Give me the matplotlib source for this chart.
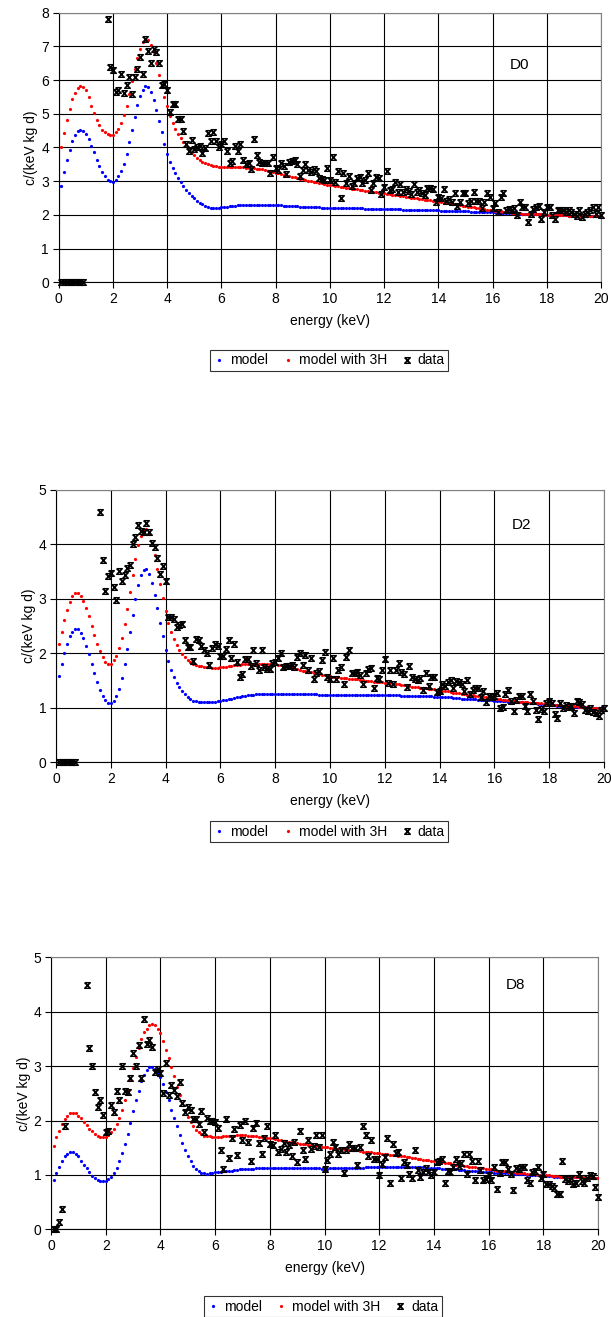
import numpy as np
import matplotlib
matplotlib.use('Agg')
import matplotlib.pyplot as plt
from matplotlib.path import Path

plt.rcParams['font.family'] = ['Liberation Sans', 'DejaVu Sans']

# ---- D0 ----
d0_model = [
    2.87, 3.27, 3.62, 3.93, 4.20, 4.38, 4.50, 4.52, 4.50, 4.40,
    4.24, 4.05, 3.85, 3.63, 3.44, 3.28, 3.14, 3.04, 2.99, 2.97,
    3.03, 3.14, 3.31, 3.52, 3.82, 4.17, 4.53, 4.91, 5.25, 5.52,
    5.71, 5.81, 5.78, 5.65, 5.42, 5.12, 4.77, 4.45, 4.10, 3.81,
    3.56, 3.38, 3.23, 3.09, 2.97, 2.86, 2.75, 2.66, 2.57, 2.49,
    2.42, 2.36, 2.31, 2.26, 2.23, 2.21, 2.21, 2.21, 2.21, 2.22,
    2.23, 2.24, 2.25, 2.26, 2.27, 2.28, 2.29, 2.29, 2.30, 2.30,
    2.30, 2.30, 2.30, 2.30, 2.30, 2.30, 2.30, 2.29, 2.29, 2.29,
    2.28, 2.28, 2.27, 2.27, 2.26, 2.26, 2.25, 2.25, 2.24, 2.24,
    2.23, 2.23, 2.23, 2.22, 2.22, 2.22, 2.21, 2.21, 2.21, 2.20,
    2.20, 2.20, 2.20, 2.20, 2.19, 2.19, 2.19, 2.19, 2.19, 2.19,
    2.19, 2.19, 2.18, 2.18, 2.18, 2.18, 2.18, 2.17, 2.17, 2.17,
    2.17, 2.17, 2.16, 2.16, 2.16, 2.16, 2.15, 2.15, 2.15, 2.15,
    2.14, 2.14, 2.14, 2.14, 2.14, 2.13, 2.13, 2.13, 2.13, 2.13,
    2.12, 2.12, 2.12, 2.11, 2.11, 2.11, 2.11, 2.10, 2.10, 2.10,
    2.10, 2.09, 2.09, 2.09, 2.09, 2.08, 2.08, 2.08, 2.07, 2.07,
    2.07, 2.06, 2.06, 2.06, 2.05, 2.05, 2.05, 2.04, 2.04, 2.03,
    2.03, 2.03, 2.02, 2.02, 2.02, 2.01, 2.01, 2.01, 2.00, 2.00,
    2.00, 2.00, 1.99, 1.99, 1.99, 1.99, 1.99, 1.98, 1.98, 1.98,
    1.98, 1.98, 1.98, 1.97, 1.97, 1.97, 1.97, 1.97, 1.97, 1.96]
d0_model_3h = [
    4.02, 4.43, 4.81, 5.15, 5.43, 5.62, 5.77, 5.82, 5.80, 5.70,
    5.51, 5.23, 5.01, 4.82, 4.66, 4.53, 4.45, 4.40, 4.38, 4.37,
    4.45, 4.56, 4.72, 4.97, 5.24, 5.58, 5.96, 6.33, 6.66, 6.93,
    7.13, 7.20, 7.19, 7.05, 6.82, 6.50, 6.16, 5.83, 5.49, 5.22,
    4.94, 4.72, 4.54, 4.41, 4.28, 4.16, 4.06, 3.96, 3.86, 3.77,
    3.70, 3.63, 3.58, 3.54, 3.50, 3.48, 3.46, 3.44, 3.43, 3.42,
    3.42, 3.42, 3.42, 3.42, 3.42, 3.42, 3.41, 3.41, 3.40, 3.40,
    3.39, 3.38, 3.37, 3.36, 3.35, 3.33, 3.31, 3.29, 3.27, 3.25,
    3.23, 3.21, 3.19, 3.17, 3.15, 3.13, 3.11, 3.09, 3.07, 3.05,
    3.03, 3.01, 2.99, 2.97, 2.96, 2.94, 2.93, 2.91, 2.90, 2.89,
    2.88, 2.86, 2.85, 2.84, 2.82, 2.81, 2.80, 2.78, 2.77, 2.76,
    2.75, 2.73, 2.72, 2.71, 2.70, 2.69, 2.67, 2.66, 2.65, 2.64,
    2.63, 2.61, 2.60, 2.59, 2.58, 2.56, 2.55, 2.54, 2.53, 2.51,
    2.50, 2.49, 2.48, 2.46, 2.45, 2.44, 2.43, 2.41, 2.40, 2.39,
    2.38, 2.36, 2.35, 2.34, 2.32, 2.31, 2.30, 2.28, 2.27, 2.26,
    2.24, 2.23, 2.22, 2.20, 2.19, 2.18, 2.16, 2.15, 2.14, 2.13,
    2.12, 2.11, 2.10, 2.09, 2.08, 2.07, 2.06, 2.05, 2.04, 2.04,
    2.03, 2.03, 2.02, 2.02, 2.02, 2.01, 2.01, 2.01, 2.00, 2.00,
    2.00, 2.00, 1.99, 1.99, 1.99, 1.99, 1.99, 1.98, 1.98, 1.98,
    1.98, 1.98, 1.98, 1.97, 1.97, 1.97, 1.97, 1.97, 1.97, 1.96]
# data: 0.1-0.9 keV, then 1.8-20.0 keV
d0_data_e = [0.1, 0.2, 0.3, 0.4, 0.5, 0.6, 0.7, 0.8, 0.9, 1.8]
d0_data = [
    0.0, 0.0, 0.0, 0.0, 0.0, 0.0, 0.0, 0.0, 0.0,
    7.82, 6.38, 6.30, 5.64, 5.69, 6.19, 5.62, 5.84, 6.09, 5.59,
    6.10, 6.33, 6.69, 6.17, 7.22, 6.85, 6.52, 6.92, 6.82, 6.51,
    5.86, 5.87, 5.71, 5.04, 5.29, 5.30, 4.84, 4.83, 4.50, 4.10,
    3.88, 4.23, 3.96, 4.00, 4.05, 3.83, 3.98, 4.43, 4.19, 4.46,
    4.20, 4.00, 4.10, 4.18, 3.90, 3.53, 3.61, 4.03, 3.90, 4.11,
    3.63, 3.50, 3.53, 3.36, 4.25, 3.79, 3.58, 3.55, 3.55, 3.55,
    3.24, 3.73, 3.39, 3.34, 3.55, 3.46, 3.21, 3.56, 3.59, 3.63,
    3.50, 3.16,
    3.33, 3.51, 3.33, 3.26, 3.35, 3.31, 3.09, 3.07, 3.04, 3.38,
    3.04, 3.73, 2.96, 3.30, 2.49, 3.23, 2.94, 3.16, 2.86, 2.94,
    3.09, 3.13, 2.94, 3.04, 3.25, 2.74, 2.94, 3.13, 3.09, 2.62,
    2.84, 3.30, 2.74, 2.76, 2.96, 2.69, 2.91, 2.69, 2.77, 2.71,
    2.62, 2.91, 2.69, 2.74, 2.64, 2.59, 2.79, 2.79, 2.77, 2.39,
    2.54, 2.49, 2.77, 2.41, 2.46, 2.39, 2.64, 2.26, 2.37, 2.64,
    2.64, 2.34, 2.41, 2.69, 2.41, 2.41, 2.19, 2.39, 2.66, 2.52,
    2.19, 2.34, 2.08, 2.54, 2.64, 2.14, 2.16, 2.14, 2.19, 1.99,
    2.37, 2.24, 2.22, 1.80, 2.02, 2.16, 2.24, 2.27, 1.88, 2.07,
    2.22, 2.22, 1.99, 1.88, 2.13, 2.13, 2.14, 2.07, 2.13, 2.07,
    2.03, 1.97, 2.13, 1.93, 2.03, 2.07, 2.13, 2.22, 2.02, 2.22,
    1.99]

# ---- D2 ----
d2_model = [
    1.59, 1.80, 2.00, 2.17, 2.31, 2.40, 2.45, 2.44, 2.38, 2.28,
    2.14, 1.98, 1.81, 1.63, 1.47, 1.33, 1.22, 1.14, 1.09, 1.08,
    1.13, 1.22, 1.35, 1.55, 1.81, 2.08, 2.39, 2.70, 3.00, 3.26,
    3.43, 3.53, 3.54, 3.46, 3.30, 3.08, 2.83, 2.56, 2.31, 2.07,
    1.86, 1.70, 1.57, 1.46, 1.38, 1.31, 1.25, 1.20, 1.16, 1.13,
    1.12, 1.11, 1.10, 1.10, 1.10, 1.10, 1.11, 1.11, 1.12, 1.13,
    1.14, 1.15, 1.16, 1.17, 1.18, 1.19, 1.20, 1.21, 1.22, 1.23,
    1.24, 1.24, 1.25, 1.25, 1.26, 1.26, 1.26, 1.26, 1.26, 1.26,
    1.26, 1.26, 1.26, 1.26, 1.26, 1.26, 1.26, 1.25, 1.25, 1.25,
    1.25, 1.25, 1.25, 1.25, 1.25, 1.24, 1.24, 1.24, 1.24, 1.24,
    1.24, 1.24, 1.24, 1.24, 1.24, 1.24, 1.24, 1.24, 1.24, 1.24,
    1.24, 1.24, 1.24, 1.24, 1.24, 1.24, 1.23, 1.23, 1.23, 1.23,
    1.23, 1.23, 1.23, 1.23, 1.23, 1.22, 1.22, 1.22, 1.22, 1.22,
    1.22, 1.22, 1.21, 1.21, 1.21, 1.21, 1.21, 1.20, 1.20, 1.20,
    1.20, 1.19, 1.19, 1.19, 1.18, 1.18, 1.18, 1.17, 1.17, 1.17,
    1.16, 1.16, 1.16, 1.15, 1.15, 1.15, 1.14, 1.14, 1.14, 1.13,
    1.13, 1.12, 1.12, 1.12, 1.11, 1.11, 1.11, 1.10, 1.10, 1.10,
    1.09, 1.09, 1.08, 1.08, 1.08, 1.07, 1.07, 1.06, 1.06, 1.05,
    1.05, 1.05, 1.04, 1.04, 1.04, 1.03, 1.03, 1.03, 1.02, 1.02,
    1.02, 1.01, 1.01, 1.01, 1.00, 1.00, 1.00, 0.99, 0.99, 0.99]
d2_model_3h = [
    2.17, 2.40, 2.61, 2.80, 2.95, 3.05, 3.10, 3.10, 3.05, 2.97,
    2.84, 2.68, 2.51, 2.34, 2.18, 2.04, 1.93, 1.85, 1.81, 1.81,
    1.87, 1.95, 2.09, 2.29, 2.53, 2.81, 3.12, 3.44, 3.73, 3.98,
    4.16, 4.27, 4.28, 4.19, 4.02, 3.80, 3.54, 3.27, 3.01, 2.78,
    2.56, 2.40, 2.26, 2.15, 2.06, 1.99, 1.93, 1.88, 1.84, 1.81,
    1.78, 1.77, 1.76, 1.75, 1.74, 1.74, 1.73, 1.73, 1.73, 1.74,
    1.74, 1.75, 1.76, 1.77, 1.78, 1.78, 1.79, 1.80, 1.80, 1.81,
    1.81, 1.81, 1.81, 1.81, 1.81, 1.81, 1.81, 1.81, 1.80, 1.80,
    1.79, 1.78, 1.77, 1.76, 1.75, 1.74, 1.72, 1.71, 1.69, 1.68,
    1.67, 1.66, 1.65, 1.64, 1.63, 1.62, 1.61, 1.60, 1.59, 1.58,
    1.57, 1.56, 1.56, 1.55, 1.55, 1.54, 1.53, 1.53, 1.52, 1.52,
    1.51, 1.51, 1.50, 1.49, 1.49, 1.48, 1.48, 1.47, 1.47, 1.46,
    1.45, 1.45, 1.44, 1.43, 1.43, 1.42, 1.41, 1.41, 1.40, 1.39,
    1.38, 1.38, 1.37, 1.36, 1.36, 1.35, 1.34, 1.34, 1.33, 1.32,
    1.31, 1.30, 1.30, 1.29, 1.28, 1.27, 1.27, 1.26, 1.25, 1.24,
    1.24, 1.23, 1.22, 1.21, 1.21, 1.20, 1.19, 1.19, 1.18, 1.17,
    1.16, 1.16, 1.15, 1.14, 1.14, 1.13, 1.13, 1.12, 1.11, 1.11,
    1.10, 1.10, 1.09, 1.09, 1.08, 1.08, 1.08, 1.07, 1.07, 1.07,
    1.06, 1.06, 1.05, 1.05, 1.04, 1.04, 1.04, 1.03, 1.03, 1.03,
    1.02, 1.02, 1.01, 1.01, 1.00, 1.00, 1.00, 0.99, 0.99, 0.99]
# data: 0.1-0.7 keV, then 1.6-20.0 keV
d2_data_e = [0.1, 0.2, 0.3, 0.4, 0.5, 0.6, 0.7, 1.6]
d2_data = [
    0.0, 0.0, 0.0, 0.0, 0.0, 0.0, 0.0,
    4.60, 3.71, 3.15, 3.42, 3.48, 3.21, 2.98, 3.51, 3.33, 3.44,
    3.56, 3.62, 4.00, 4.14, 4.36, 4.25, 4.22, 4.39, 4.23, 4.03,
    3.95, 3.75, 3.46, 3.60, 3.32, 2.67, 2.67, 2.63, 2.49, 2.52,
    2.54, 2.25, 2.12, 2.11, 1.86, 2.26, 2.25, 2.14, 2.06, 2.01,
    1.79, 2.09, 2.18, 2.14, 1.95, 1.96, 2.08, 2.25, 1.92, 2.18,
    1.85, 1.57, 1.62, 1.90, 1.90, 1.76, 2.06, 1.82, 1.70, 2.06,
    1.74, 1.71, 1.71, 1.82, 1.85, 1.91, 2.00, 1.74, 1.77, 1.77,
    1.79, 1.74, 1.93,
    2.00, 1.78, 1.97, 1.70, 1.92, 1.53, 1.63, 1.68, 1.87, 2.02,
    1.57, 1.52, 1.92, 1.53, 1.69, 1.75, 1.43, 1.94, 2.06, 1.63,
    1.64, 1.65, 1.61, 1.43, 1.63, 1.71, 1.73, 1.36, 1.54, 1.53,
    1.69, 1.89, 1.46, 1.69, 1.43, 1.69, 1.83, 1.66, 1.62, 1.39,
    1.77, 1.57, 1.52, 1.51, 1.55, 1.32, 1.63, 1.40, 1.57, 1.56,
    1.29, 1.31, 1.43, 1.40, 1.48, 1.51, 1.36, 1.49, 1.48, 1.43,
    1.31, 1.51, 1.26, 1.32, 1.36, 1.37, 1.20, 1.31, 1.11, 1.21,
    1.20, 1.21, 1.28, 0.99, 1.02, 1.25, 1.32, 1.13, 0.94, 1.14,
    1.21, 1.21, 1.03, 0.95, 1.26, 1.13, 0.96, 0.80, 0.97, 0.94,
    1.08, 1.13, 1.09, 0.88, 0.82, 1.09, 1.00, 1.05, 1.02, 1.03,
    0.90, 1.12, 1.11, 1.07, 0.96, 0.94, 0.99, 0.93, 0.90, 0.85,
    0.96, 0.99]

# ---- D8 ----
d8_model = [
    0.91, 1.03, 1.15, 1.26, 1.34, 1.38, 1.42, 1.42, 1.38, 1.34,
    1.26, 1.19, 1.12, 1.05, 0.98, 0.94, 0.91, 0.89, 0.89, 0.89,
    0.92, 0.96, 1.03, 1.13, 1.25, 1.40, 1.57, 1.76, 1.96, 2.17,
    2.37, 2.55, 2.72, 2.84, 2.92, 2.98, 2.98, 2.95, 2.88, 2.80,
    2.68, 2.53, 2.37, 2.20, 2.05, 1.89, 1.73, 1.58, 1.45, 1.34,
    1.25, 1.17, 1.11, 1.07, 1.04, 1.03, 1.02, 1.03, 1.04, 1.05,
    1.06, 1.06, 1.07, 1.07, 1.08, 1.08, 1.09, 1.09, 1.10, 1.10,
    1.10, 1.11, 1.11, 1.11, 1.12, 1.12, 1.12, 1.12, 1.12, 1.13,
    1.13, 1.13, 1.13, 1.13, 1.13, 1.13, 1.13, 1.13, 1.13, 1.13,
    1.13, 1.13, 1.12, 1.12, 1.12, 1.12, 1.12, 1.12, 1.11, 1.11,
    1.11, 1.12, 1.12, 1.12, 1.12, 1.12, 1.12, 1.13, 1.13, 1.13,
    1.13, 1.13, 1.13, 1.13, 1.14, 1.14, 1.14, 1.14, 1.14, 1.14,
    1.14, 1.14, 1.14, 1.15, 1.15, 1.15, 1.15, 1.15, 1.15, 1.15,
    1.15, 1.15, 1.14, 1.14, 1.14, 1.14, 1.13, 1.13, 1.13, 1.12,
    1.12, 1.12, 1.11, 1.11, 1.11, 1.10, 1.10, 1.10, 1.09, 1.09,
    1.09, 1.08, 1.08, 1.07, 1.07, 1.07, 1.06, 1.06, 1.05, 1.05,
    1.05, 1.04, 1.04, 1.04, 1.03, 1.03, 1.03, 1.02, 1.02, 1.02,
    1.01, 1.01, 1.01, 1.00, 1.00, 1.00, 0.99, 0.99, 0.99, 0.98,
    0.98, 0.98, 0.98, 0.97, 0.97, 0.97, 0.97, 0.97, 0.96, 0.96,
    0.96, 0.96, 0.96, 0.96, 0.95, 0.95, 0.95, 0.95, 0.95, 0.95]
d8_model_3h = [
    1.54, 1.69, 1.81, 1.93, 2.02, 2.09, 2.13, 2.14, 2.13, 2.09,
    2.04, 1.98, 1.91, 1.85, 1.80, 1.75, 1.72, 1.69, 1.69, 1.69,
    1.73, 1.78, 1.84, 1.94, 2.05, 2.19, 2.37, 2.56, 2.76, 2.96,
    3.17, 3.34, 3.49, 3.62, 3.69, 3.75, 3.77, 3.75, 3.69, 3.60,
    3.46, 3.30, 3.14, 2.98, 2.81, 2.62, 2.47, 2.32, 2.18, 2.06,
    1.97, 1.89, 1.83, 1.78, 1.75, 1.72, 1.72, 1.71, 1.70, 1.70,
    1.70, 1.70, 1.71, 1.71, 1.72, 1.72, 1.72, 1.73, 1.73, 1.73,
    1.73, 1.72, 1.72, 1.71, 1.71, 1.70, 1.70, 1.69, 1.68, 1.67,
    1.67, 1.66, 1.65, 1.64, 1.63, 1.62, 1.61, 1.60, 1.59, 1.58,
    1.57, 1.57, 1.56, 1.55, 1.55, 1.54, 1.53, 1.53, 1.52, 1.51,
    1.51, 1.50, 1.50, 1.49, 1.48, 1.48, 1.47, 1.47, 1.46, 1.46,
    1.45, 1.45, 1.44, 1.43, 1.43, 1.42, 1.42, 1.41, 1.41, 1.40,
    1.39, 1.39, 1.38, 1.37, 1.37, 1.36, 1.35, 1.34, 1.34, 1.33,
    1.32, 1.31, 1.31, 1.30, 1.29, 1.28, 1.27, 1.27, 1.26, 1.25,
    1.24, 1.24, 1.23, 1.22, 1.21, 1.21, 1.20, 1.19, 1.18, 1.18,
    1.17, 1.16, 1.15, 1.15, 1.14, 1.13, 1.12, 1.12, 1.11, 1.10,
    1.10, 1.09, 1.08, 1.08, 1.07, 1.07, 1.06, 1.05, 1.05, 1.04,
    1.04, 1.03, 1.03, 1.02, 1.02, 1.01, 1.01, 1.00, 1.00, 0.99,
    0.99, 0.99, 0.98, 0.98, 0.98, 0.97, 0.97, 0.97, 0.97, 0.96,
    0.96, 0.96, 0.96, 0.96, 0.95, 0.95, 0.95, 0.95, 0.95, 0.95]
# data: 0.1-0.5 keV, then 1.3-20.0 keV
d8_data_e = [0.1, 0.2, 0.3, 0.4, 0.5, 1.3]
d8_data = [
    0.0, 0.0, 0.13, 0.37, 1.89,
    4.50, 3.33, 3.00, 2.53, 2.24, 2.37, 2.10, 1.79, 1.81, 2.29,
    2.15, 2.55, 2.37, 3.00, 2.55, 2.53, 2.79, 3.24, 3.00, 3.38,
    2.79, 3.86, 3.40, 3.48, 3.35, 2.90, 2.94, 2.87, 2.50, 3.05,
    2.47, 2.65, 2.57, 2.45, 2.71, 2.32, 2.15, 2.25, 2.19, 2.02,
    2.02, 1.94, 2.18, 1.78, 2.04, 2.00, 1.99, 1.97, 1.86, 1.46,
    1.11, 2.02, 1.31, 1.67, 1.84, 1.37, 1.91, 1.64, 1.99, 1.61,
    1.26, 1.86, 1.95, 1.58, 1.38, 1.67, 1.90, 1.57, 1.55, 1.73,
    1.43, 1.47, 1.59, 1.43, 1.55, 1.35, 1.60, 1.23,
    1.81, 1.46, 1.30, 1.65, 1.47, 1.53, 1.73, 1.52, 1.73, 1.11,
    1.27, 1.38, 1.61, 1.52, 1.38, 1.46, 1.03, 1.46, 1.57, 1.49,
    1.49, 1.19, 1.52, 1.89, 1.73, 1.34, 1.64, 1.30, 1.30, 0.99,
    1.20, 1.32, 1.67, 0.85, 1.57, 1.41, 1.43, 0.94, 1.24, 1.18,
    1.02, 0.94, 1.46, 1.09, 0.97, 1.06, 1.12, 1.05, 0.99, 1.06,
    1.24, 1.26, 1.29, 0.85, 1.08, 1.06, 1.14, 1.30, 1.16, 1.21,
    1.38, 1.02, 1.38, 1.26, 0.91, 1.26, 1.09, 0.91, 0.92, 1.00,
    0.91, 1.15, 0.74, 1.04, 1.24, 1.23, 1.11, 1.02, 0.72, 1.12,
    1.11, 1.15, 1.14, 0.91, 0.86, 1.06, 1.08, 1.14, 0.94, 1.01,
    0.83, 0.83, 0.80, 0.75, 0.64, 0.64, 1.26, 0.92, 0.89, 0.94,
    0.83, 0.86, 1.02, 0.88, 0.86, 0.95, 0.99, 0.98, 0.77, 0.59]

panels = [
    ('D0', d0_model, d0_model_3h, d0_data_e, d0_data, 8, 6.45),
    ('D2', d2_model, d2_model_3h, d2_data_e, d2_data, 5, 4.36),
    ('D8', d8_model, d8_model_3h, d8_data_e, d8_data, 5, 4.49),
]

# axes rectangles in figure fractions (left, bottom, width, height)
rects = [(0.0961, 0.7857, 0.8876, 0.2047),
         (0.0917, 0.4212, 0.8969, 0.2068),
         (0.0835, 0.0666, 0.8953, 0.2065)]
legend_pos = [(0.539, 0.7263), (0.539, 0.3683), (0.528, 0.0078)]

# hourglass-like "x" marker used for the data points
hourglass = Path([(-1, 1), (1, 1), (-1, -1), (1, -1), (-1, 1)],
                 [Path.MOVETO, Path.LINETO, Path.LINETO, Path.LINETO, Path.LINETO])

fig = plt.figure(figsize=(6.11, 13.17), dpi=100)

for (name, m, m3, de_start, dv, ymax, ylab), rect, lp in zip(panels, rects, legend_pos):
    ax = fig.add_axes(rect)
    e_model = 0.1 * np.arange(1, len(m) + 1)
    # data energies: low segment values plus a continuous run from the last start
    n_low = len(de_start) - 1
    e_data = np.concatenate([np.array(de_start[:n_low]),
                             de_start[-1] + 0.1 * np.arange(len(dv) - n_low)])

    ax.plot(e_model, m, 'o', color='#0000ff', ms=2.3, mew=0, label='model', zorder=3)
    ax.plot(e_model, m3, 'o', color='#ff0000', ms=2.3, mew=0, label='model with 3H', zorder=4)
    ax.plot(e_data, dv, linestyle='none', marker=hourglass, color='black',
            markerfacecolor='none', ms=4.0, mew=1.1,
            label='data', zorder=5, clip_on=False)

    ax.set_xlim(0, 20)
    ax.set_ylim(0, ymax)
    ax.set_xticks(np.arange(0, 21, 2))
    ax.set_yticks(np.arange(0, ymax + 1, 1))
    ax.grid(True, color='black', linewidth=0.8)
    ax.set_axisbelow(True)
    for s in ['top', 'right']:
        ax.spines[s].set_color('#808080')
    for s in ['left', 'bottom']:
        ax.spines[s].set_color('black')
    ax.tick_params(direction='out', length=4, width=0.8, labelsize=10, pad=3)
    ax.set_xlabel('energy (keV)', fontsize=10, labelpad=6)
    ax.set_ylabel('c/(keV kg d)', fontsize=10, labelpad=2)
    ax.text(17.0, ylab, name, fontsize=11, ha='center', va='center')

    leg = ax.legend(loc='center', bbox_to_anchor=lp, bbox_transform=fig.transFigure,
                    ncol=3, fontsize=10, frameon=True, fancybox=False, edgecolor='black',
                    handlelength=0.8, handletextpad=0.4, columnspacing=1.0,
                    borderpad=0.25, markerscale=1.0)
    leg.get_frame().set_linewidth(0.8)

fig.savefig('out.png', dpi=100)
